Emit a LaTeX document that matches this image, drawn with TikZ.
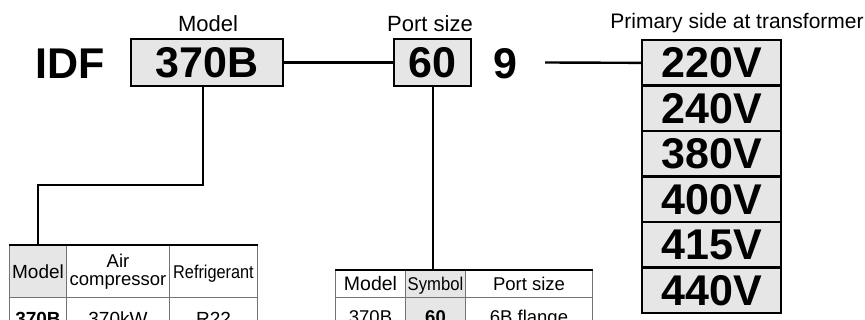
\documentclass[tikz,border=0pt]{standalone}
\usepackage{fontspec}
\setmainfont{Liberation Sans}
\definecolor{boxgray}{HTML}{E6E6E6}
\tikzset{
  big/.style={font=\fontsize{43}{43}\selectfont\bfseries},
  lab/.style={font=\fontsize{22}{24}\selectfont},
  codebox/.style={draw=black, line width=2.2pt, fill=boxgray, inner sep=0pt, big},
  cell/.style={draw=black!55, line width=1pt, inner sep=0pt, anchor=north west,
               font=\fontsize{18.5}{18}\selectfont, align=center},
  one/.style={text height=13.3pt, text depth=0pt},
  conn/.style={line width=2.4pt},
  topline/.style={line width=2.2pt},
}
\begin{document}
\begin{tikzpicture}[x=1pt,y=-1pt]
\useasboundingbox (0,0) rectangle (865,320);
\clip (0,0) rectangle (865,320);
% code row
\node[big, anchor=base] (idf) at (70,79) {IDF};
\node[codebox, minimum width=152pt, minimum height=47pt] (m) at (207,62.5) {370B};
\node[lab, anchor=base] (mlab) at (208,32) {Model};
\node[codebox, minimum width=77pt, minimum height=47pt] (p) at (432.5,62.5) {60};
\node[lab, anchor=base] (plab) at (430,32) {Port size};
\node[big, anchor=base] (nine) at (505,79) {9};
\coordinate (c9) at (545,62.5);
\foreach \v [count=\i] in {220V,240V,380V,400V,415V,440V}
  \node[codebox, minimum width=139pt, minimum height=45.5pt, anchor=north] (v\i) at (711.5,{39+45.5*(\i-1)}) {\v};
\node[anchor=base, font=\fontsize{21}{22}\selectfont] (vlab) at (737,29) {Primary side at transformer};
% left table
\node[cell, one, fill=boxgray, minimum width=57pt, minimum height=52pt, font=\fontsize{19}{18}\selectfont] (t1model) at (9,245) {Model};
\node[cell, minimum width=103pt, minimum height=52pt] (t1air) at (66,245) {Air\\compressor};
\node[cell, one, minimum width=88pt, minimum height=52pt] (t1ref) at (169,245) {\scalebox{0.88}[1]{Refrigerant}};
\node[cell, one, minimum width=57pt, minimum height=42pt, font=\fontsize{19}{19}\selectfont\bfseries] (t1a) at (9,297) {370B};
\node[cell, one, minimum width=103pt, minimum height=42pt, font=\fontsize{19}{19}\selectfont] (t1b) at (66,297) {370kW};
\node[cell, one, minimum width=88pt, minimum height=42pt, font=\fontsize{19}{19}\selectfont] (t1c) at (169,297) {R22};
\draw[topline] (t1model.north west) -- (t1ref.north east);
% middle table
\node[cell, one, minimum width=70pt, minimum height=27pt, font=\fontsize{19.5}{18}\selectfont] (t2model) at (335,270) {Model};
\node[cell, one, fill=boxgray, minimum width=60pt, minimum height=27pt] (t2sym) at (405,270) {\scalebox{0.9}[1]{Symbol}};
\node[cell, one, minimum width=127pt, minimum height=27pt] (t2port) at (465,270) {Port size};
\node[cell, one, minimum width=70pt, minimum height=39pt] (t2a) at (335,297) {370B};
\node[cell, one, fill=boxgray, minimum width=60pt, minimum height=39pt, font=\fontsize{18.5}{18}\selectfont\bfseries] (t2b) at (405,297) {60};
\node[cell, one, minimum width=127pt, minimum height=39pt] (t2c) at (465,297) {6B flange};
\draw[topline] (t2model.north west) -- (t2port.north east);
% connectors
\draw[conn] (m.east) -- (p.west);
\draw[conn] (c9) -- (v1.west);
\draw[conn] ([xshift=-4pt]m.south) -- ++(0,98) -| (t1model.north);
\draw[conn, line width=2pt] (p.south) -- (p.south |- t2sym.north);
\end{tikzpicture}
\end{document}
